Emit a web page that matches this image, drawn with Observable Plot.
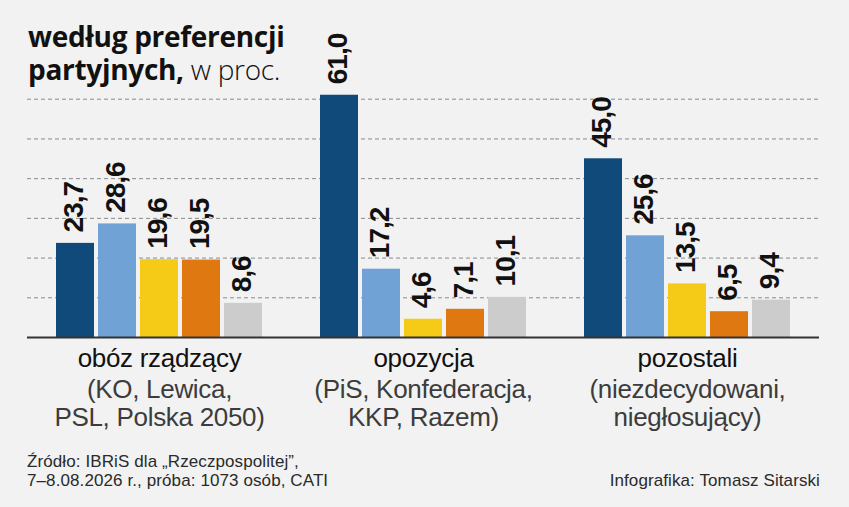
<!DOCTYPE html>
<html>
<head>
<meta charset="utf-8">
<script src="https://cdn.jsdelivr.net/npm/d3@7"></script>
<script src="https://cdn.jsdelivr.net/npm/@observablehq/plot@0.6"></script>
<style>
  html, body { margin: 0; padding: 0; background: #f2f2f2; }
  #wrap { position: relative; width: 849px; height: 507px; background: #f2f2f2; overflow: hidden; }
  #title { position: absolute; left: 28px; top: 20px; font-family: "Open Sans", sans-serif; font-size: 28px; line-height: 33px; color: #111; letter-spacing: -0.3px; }
  #title b { font-weight: 700; }
  #title span { font-weight: 300; }
  .foot { position: absolute; font-family: "Liberation Sans", Arial, sans-serif; font-size: 17px; line-height: 19px; color: #2a2a2a; letter-spacing: 0.1px; white-space: pre; }
  #src { left: 27px; top: 452px; }
  #credit { right: 29px; top: 471px; }
  #chart { position: absolute; left: 0; top: 0; }
</style>
</head>
<body>
<div id="wrap">
  <div id="chart"></div>
  <div id="title"><b>według preferencji</b><br><b>partyjnych,</b><span> w proc.</span></div>
  <div class="foot" id="src"></div>
  <div class="foot" id="credit"></div>
</div>
<script>
// ---- data ----
const groups = ["obóz rządzący", "opozycja", "pozostali"];
const groupSubtitles = ["(KO, Lewica,\nPSL, Polska 2050)", "(PiS, Konfederacja,\nKKP, Razem)", "(niezdecydowani,\nniegłosujący)"];
const series = ["s1", "s2", "s3", "s4", "s5"];
const valuesRzadzacy = [23.7, 28.6, 19.6, 19.5, 8.6];
const valuesOpozycja = [61.0, 17.2, 4.6, 7.1, 10.1];
const valuesPozostali = [45.0, 25.6, 13.5, 6.5, 9.4];
const gridTicks = [10, 20, 30, 40, 50, 60];
const seriesColors = ["#0f4a7a", "#70a2d6", "#f6cb18", "#e07812", "#cccccc"];
const sourceText = "Źródło: IBRiS dla „Rzeczpospolitej”,\n7–8.08.2026 r., próba: 1073 osób, CATI";
const creditText = "Infografika: Tomasz Sitarski";

// ---- table ----
const allValues = [valuesRzadzacy, valuesOpozycja, valuesPozostali];
const data = [];
groups.forEach((g, gi) => series.forEach((s, si) => data.push({group: g, series: s, value: allValues[gi][si]})));
const groupRows = groups.map((g, i) => ({group: g, sub: groupSubtitles[i]}));

const fmt = v => v.toFixed(1).replace(".", ",");
const sans = "Liberation Sans, Arial, sans-serif";

const chart = Plot.plot({
  width: 849,
  height: 440,
  marginLeft: 27,
  marginRight: 30,
  marginTop: 59,
  marginBottom: 103,
  style: {background: "transparent", overflow: "visible"},
  fx: {domain: groups, padding: 0, axis: null},
  x: {domain: series, paddingInner: 0.095, paddingOuter: 0.69, axis: null},
  y: {domain: [0, 70], axis: null},
  color: {domain: series, range: seriesColors},
  marks: [
    Plot.ruleY(gridTicks, {stroke: "#8a8a8a", strokeWidth: 1, strokeDasharray: "4,3"}),
    Plot.barY(data, {fx: "group", x: "series", y: "value", fill: "series"}),
    Plot.ruleY([0], {stroke: "#333", strokeWidth: 2}),
    Plot.text(data, {
      fx: "group", x: "series", y: "value", text: d => fmt(d.value),
      rotate: -90, textAnchor: "start", lineAnchor: "middle", dy: -11, dx: -1,
      fontFamily: sans, fontWeight: "bold", fontSize: 28, fill: "#111",
      className: "vlabel"
    }),
    Plot.text(groupRows, {
      fx: "group", text: "group", frameAnchor: "bottom", lineAnchor: "top", dy: 11,
      fontFamily: sans, fontSize: 26, fill: "#111", className: "cat"
    }),
    Plot.text(groupRows, {
      fx: "group", text: "sub", frameAnchor: "bottom", lineAnchor: "top", dy: 40, lineHeight: 1.1,
      fontFamily: sans, fontSize: 26, fill: "#3c3c3c", className: "cat"
    })
  ]
});
chart.querySelectorAll("g.vlabel").forEach(g => g.setAttribute("letter-spacing", "-1"));
chart.querySelectorAll("g.cat").forEach(g => g.setAttribute("letter-spacing", "-0.3"));
document.getElementById("chart").appendChild(chart);
document.getElementById("src").textContent = sourceText;
document.getElementById("credit").textContent = creditText;
</script>
</body>
</html>
